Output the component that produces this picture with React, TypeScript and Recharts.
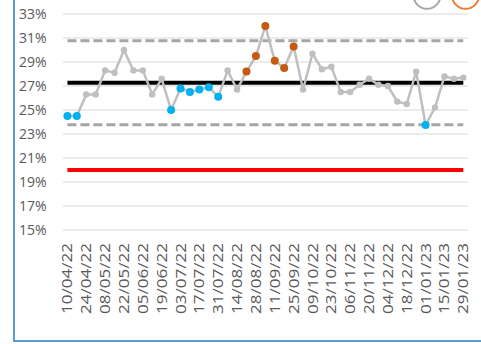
import React from 'react';
import { LineChart, Line, XAxis, YAxis, CartesianGrid, ReferenceLine } from 'recharts';

const weeks = [
  '10/04/22','17/04/22','24/04/22','01/05/22','08/05/22','15/05/22','22/05/22','29/05/22',
  '05/06/22','12/06/22','19/06/22','26/06/22','03/07/22','10/07/22','17/07/22','24/07/22',
  '31/07/22','07/08/22','14/08/22','21/08/22','28/08/22','04/09/22','11/09/22','18/09/22',
  '25/09/22','02/10/22','09/10/22','16/10/22','23/10/22','30/10/22','06/11/22','13/11/22',
  '20/11/22','27/11/22','04/12/22','11/12/22','18/12/22','25/12/22','01/01/23','08/01/23',
  '15/01/23','22/01/23','29/01/23',
];

const rate = [
  24.5, 24.5, 26.3, 26.3, 28.3, 28.1, 30.0, 28.3, 28.3, 26.3,
  27.6, 25.0, 26.8, 26.5, 26.7, 26.9, 26.1, 28.3, 26.7, 28.2,
  29.5, 32.0, 29.1, 28.5, 30.3, 26.7, 29.7, 28.4, 28.6, 26.5,
  26.5, 27.1, 27.6, 27.1, 27.0, 25.7, 25.5, 28.2, 23.75, 25.2,
  27.8, 27.6, 27.7,
];

// signal classification per point: 'low' run / 'high' run / '' none
const signal = [
  'low','low','','','','','','','','',
  '','low','low','low','low','low','low','','','high',
  'high','high','high','high','high','','','','','',
  '','','','','','','','','low','',
  '','','',
];

const meanValue = 27.28;
const upperLimit = 30.78;
const lowerLimit = 23.78;
const targetValue = 20;

const yTicks = [15, 17, 19, 21, 23, 25, 27, 29, 31, 33];
const labelTicks = weeks.map((_, i) => i).filter((i) => i % 2 === 0);
const boundaryTicks = [...weeks.map((_, i) => i - 0.5), weeks.length - 0.5];

const data = weeks.map((w, i) => ({ idx: i, week: w, rate: rate[i], signal: signal[i] }));

const FONT = '"Open Sans", "Liberation Sans", sans-serif';
const TEXT = '#595959';

const YTick = (props: any) => {
  const { x, y, payload } = props;
  return (
    <text x={x} y={y} dy="0.36em" textAnchor="end" fill={TEXT} fontFamily={FONT} fontSize={14}>
      {`${payload.value}%`}
    </text>
  );
};

const XLabel = (props: any) => {
  const { x, y, payload } = props;
  return (
    <text
      transform={`translate(${x},${y}) rotate(-90) scale(1.22,1)`}
      dy="0.36em"
      textAnchor="end"
      fill={TEXT}
      fontFamily={FONT}
      fontSize={14}
    >
      {weeks[payload.value]}
    </text>
  );
};

const Dot = (props: any) => {
  const { cx, cy, payload, index } = props;
  if (cx == null || cy == null) return <g key={`d${index}`} />;
  const s = payload.signal;
  const fill = s === 'low' ? '#00b0f0' : s === 'high' ? '#c55a11' : '#bfbfbf';
  const r = s ? 4 : 3.2;
  return <circle key={`d${index}`} cx={cx} cy={cy} r={r} fill={fill} stroke="none" />;
};

export default function App() {
  return (
    <div style={{ position: 'absolute', left: 0, top: 0, width: 481, height: 344, overflow: 'hidden', background: '#fff' }}>
      <LineChart width={481} height={344} data={data} margin={{ top: 14, right: 13, bottom: 0, left: 0 }}>
        <CartesianGrid vertical={false} stroke="#d9d9d9" strokeWidth={1} />
        <XAxis
          dataKey="idx"
          type="number"
          domain={[-0.5, weeks.length - 0.5]}
          ticks={boundaryTicks}
          tick={false}
          tickSize={4}
          axisLine={{ stroke: '#d9d9d9' }}
          tickLine={{ stroke: '#d9d9d9' }}
          height={0}
          allowDataOverflow
        />
        <XAxis
          xAxisId="lab"
          dataKey="idx"
          type="number"
          domain={[-0.5, weeks.length - 0.5]}
          ticks={labelTicks}
          interval={0}
          tick={<XLabel />}
          tickLine={false}
          axisLine={false}
          tickSize={0}
          tickMargin={13}
          height={114}
          allowDataOverflow
        />
        <YAxis
          type="number"
          domain={[15, 33]}
          ticks={yTicks}
          interval={0}
          axisLine={false}
          tickLine={false}
          tickSize={0}
          tickMargin={16}
          width={62.7}
          tick={<YTick />}
        />
        <ReferenceLine
          segment={[{ x: 0, y: upperLimit }, { x: weeks.length - 1, y: upperLimit }]}
          stroke="#a6a6a6"
          strokeWidth={3}
          strokeDasharray="9 4"
        />
        <ReferenceLine
          segment={[{ x: 0, y: lowerLimit }, { x: weeks.length - 1, y: lowerLimit }]}
          stroke="#a6a6a6"
          strokeWidth={3}
          strokeDasharray="9 4"
        />
        <ReferenceLine
          segment={[{ x: 0, y: meanValue }, { x: weeks.length - 1, y: meanValue }]}
          stroke="#000000"
          strokeWidth={4}
        />
        <ReferenceLine
          segment={[{ x: 0, y: targetValue }, { x: weeks.length - 1, y: targetValue }]}
          stroke="#ff0000"
          strokeWidth={4}
        />
        <Line
          dataKey="rate"
          stroke="#bfbfbf"
          strokeWidth={2.5}
          dot={Dot}
          activeDot={false}
          isAnimationActive={false}
        />
      </LineChart>
      <svg width={481} height={344} style={{ position: 'absolute', left: 0, top: 0, pointerEvents: 'none' }}>
        <circle cx={427} cy={-4.7} r={13.5} fill="none" stroke="#a6a6a6" strokeWidth={2} />
        <circle cx={465.5} cy={-4.7} r={13.5} fill="none" stroke="#ed7d31" strokeWidth={2} />
        <line x1={14} y1={0} x2={14} y2={341} stroke="#5b9bd5" strokeWidth={2} />
        <line x1={13} y1={341} x2={481} y2={341} stroke="#5b9bd5" strokeWidth={2} />
      </svg>
    </div>
  );
}
